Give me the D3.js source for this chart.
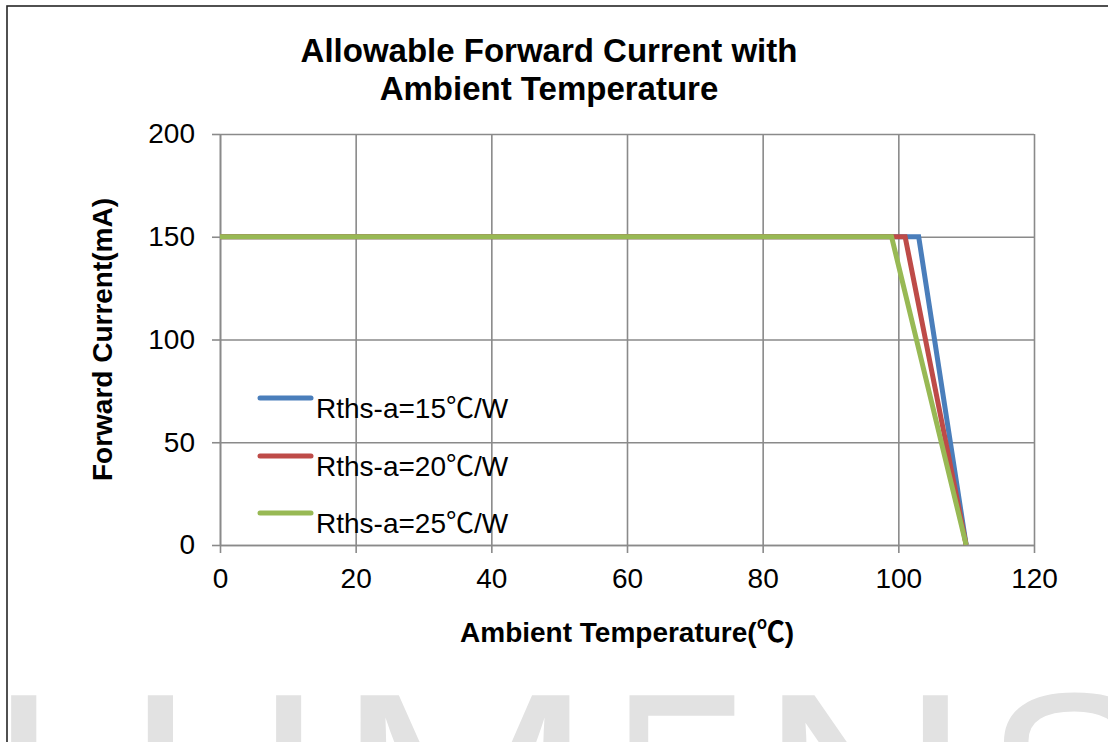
<!DOCTYPE html>
<html>
<head>
<meta charset="utf-8">
<script src="https://cdn.jsdelivr.net/npm/d3@7"></script>
<style>
  html, body { margin: 0; padding: 0; background: #fff; }
  svg { display: block; }
  text { font-family: "Liberation Sans", Arial, "Noto Sans CJK SC", sans-serif; }
</style>
</head>
<body>
<svg id="chart" width="1108" height="742"></svg>
<script>
// ---- data ----
const titleLines = ["Allowable Forward Current with", "Ambient Temperature"];
const xTitle = "Ambient Temperature(\u2103)";
const yTitle = "Forward Current(mA)";
const xTicks = [0, 20, 40, 60, 80, 100, 120];
const yTicks = [0, 50, 100, 150, 200];
const seriesNames = ["Rths-a=15\u2103/W", "Rths-a=20\u2103/W", "Rths-a=25\u2103/W"];
const seriesColors = ["#4A7EBB", "#BE4B48", "#98B954"];
const temp15 = [0, 103, 110];
const curr15 = [150, 150, 0];
const temp20 = [0, 101, 110];
const curr20 = [150, 150, 0];
const temp25 = [0, 99, 110];
const curr25 = [150, 150, 0];
const watermark = ["L", "U", "M", "E", "N", "S"];

const series = [
  { name: seriesNames[0], color: seriesColors[0], pts: temp15.map((t, i) => [t, curr15[i]]) },
  { name: seriesNames[1], color: seriesColors[1], pts: temp20.map((t, i) => [t, curr20[i]]) },
  { name: seriesNames[2], color: seriesColors[2], pts: temp25.map((t, i) => [t, curr25[i]]) }
];

const svg = d3.select("#chart");

// ---- watermark ----
const wmFont = 270;
const wmLayout = [
  { x: -11, len: null },
  { x: 127, len: null },
  { x: 335, len: 260 },
  { x: 613, len: 134 },
  { x: 758, len: 214 },
  { x: 983, len: null }
];
const wm = svg.append("g").attr("fill", "#e2e2e2");
watermark.forEach((ch, i) => {
  const t = wm.append("text")
    .attr("x", wmLayout[i].x)
    .attr("y", 881)
    .attr("font-size", wmFont)
    .text(ch);
  if (wmLayout[i].len) t.attr("textLength", wmLayout[i].len).attr("lengthAdjust", "spacingAndGlyphs");
});

// ---- outer border ----
svg.append("rect")
  .attr("x", 7).attr("y", 6)
  .attr("width", 1120).attr("height", 760)
  .attr("fill", "none").attr("stroke", "#262626").attr("stroke-width", 1.6);

// ---- scales ----
const x = d3.scaleLinear().domain([0, 120]).range([220, 1034]);
const y = d3.scaleLinear().domain([0, 200]).range([545, 134]);

const gridColor = "#8a8a8a";

// gridlines
const gx = svg.append("g")
  .attr("transform", `translate(0,${y(0)})`)
  .call(d3.axisBottom(x).tickValues(xTicks).tickSize(-(y(0) - y(200))).tickFormat(""));
gx.select(".domain").remove();
gx.selectAll("line").attr("stroke", gridColor).attr("stroke-width", 1.6);

const gy = svg.append("g")
  .attr("transform", `translate(${x(0)},0)`)
  .call(d3.axisLeft(y).tickValues(yTicks).tickSize(-(x(120) - x(0))).tickFormat(""));
gy.select(".domain").remove();
gy.selectAll("line").attr("stroke", gridColor).attr("stroke-width", 1.6);

// axes
const ax = svg.append("g")
  .attr("transform", `translate(0,${y(0)})`)
  .call(d3.axisBottom(x).tickValues(xTicks).tickSize(8).tickSizeOuter(0).tickPadding(15));
ax.select(".domain").attr("stroke", gridColor).attr("stroke-width", 1.6);
ax.selectAll("line").attr("stroke", gridColor).attr("stroke-width", 1.6);
ax.selectAll("text").attr("font-size", 28).attr("fill", "#000")
  .style("font-family", '"Liberation Sans", Arial, sans-serif');

const ay = svg.append("g")
  .attr("transform", `translate(${x(0)},0)`)
  .call(d3.axisLeft(y).tickValues(yTicks).tickSize(8).tickSizeOuter(0).tickPadding(17));
ay.select(".domain").attr("stroke", gridColor).attr("stroke-width", 1.6);
ay.selectAll("line").attr("stroke", gridColor).attr("stroke-width", 1.6);
ay.selectAll("text").attr("font-size", 28).attr("fill", "#000")
  .style("font-family", '"Liberation Sans", Arial, sans-serif');

// ---- series ----
const line = d3.line().x(d => x(d[0])).y(d => y(d[1]));
svg.append("g").selectAll("path")
  .data(series)
  .join("path")
  .attr("d", d => line(d.pts))
  .attr("fill", "none")
  .attr("stroke", d => d.color)
  .attr("stroke-width", 5)
  .attr("stroke-linejoin", "miter");

// ---- titles ----
svg.append("text")
  .attr("text-anchor", "middle")
  .attr("font-size", 33).attr("font-weight", "bold")
  .selectAll("tspan").data(titleLines).join("tspan")
  .attr("x", 549).attr("y", (d, i) => 62 + i * 38)
  .text(d => d);

svg.append("text")
  .attr("x", (x(0) + x(120)) / 2).attr("y", 642)
  .attr("text-anchor", "middle")
  .attr("font-size", 28).attr("font-weight", "bold")
  .text(xTitle);

svg.append("text")
  .attr("transform", `translate(112,${(y(0) + y(200)) / 2}) rotate(-90)`)
  .attr("text-anchor", "middle")
  .attr("font-size", 28).attr("font-weight", "bold")
  .text(yTitle);

// ---- legend ----
const legendY = [398, 456, 513];
const lg = svg.append("g");
series.forEach((s, i) => {
  lg.append("line")
    .attr("x1", 260).attr("x2", 311)
    .attr("y1", legendY[i]).attr("y2", legendY[i])
    .attr("stroke", s.color).attr("stroke-width", 5)
    .attr("stroke-linecap", "round");
  lg.append("text")
    .attr("x", 316).attr("y", legendY[i] + 20)
    .attr("font-size", 28)
    .text(s.name);
});
</script>
</body>
</html>
